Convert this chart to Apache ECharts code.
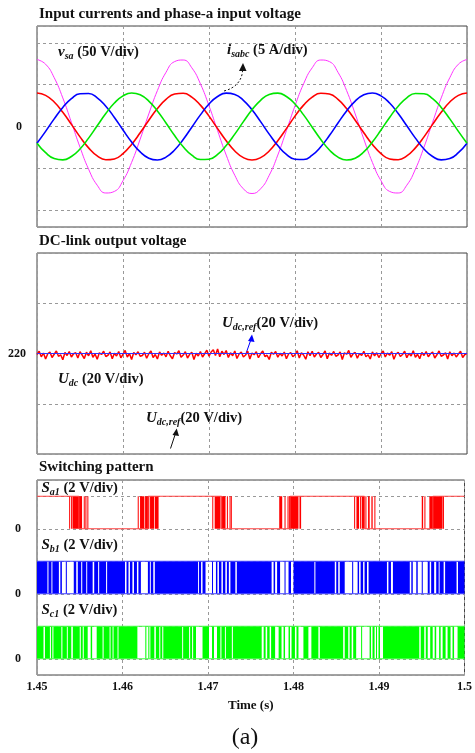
<!DOCTYPE html>
<html>
<head>
<meta charset="utf-8">
<script src="https://cdn.jsdelivr.net/npm/echarts@6/dist/echarts.min.js"></script>
<style>
html, body { margin: 0; padding: 0; background: #fff; }
#main { width: 475px; height: 753px; }
</style>
</head>
<body>
<div id="main"></div>
<script>
// --- input currents and phase-a voltage, sampled every 1 ms ---
var timeAc = [1.450,1.451,1.452,1.453,1.454,1.455,1.456,1.457,1.458,1.459,1.460,1.461,1.462,1.463,1.464,1.465,1.466,1.467,1.468,1.469,
    1.470,1.471,1.472,1.473,1.474,1.475,1.476,1.477,1.478,1.479,1.480,1.481,1.482,1.483,1.484,1.485,1.486,1.487,1.488,1.489,
    1.490,1.491,1.492,1.493,1.494,1.495,1.496,1.497,1.498,1.499,1.500];
var vsa = [80,74.4,58.3,34.1,5.0,-24.7,-51.0,-70.1,-79.4,-77.5,-64.7,-42.9,-15.0,15.0,42.9,64.7,77.5,79.4,70.1,51.0,
    24.7,-5.0,-34.1,-58.3,-74.4,-80,-74.4,-58.3,-34.1,-5.0,24.7,51.0,70.1,79.4,77.5,64.7,42.9,15.0,-15.0,-42.9,
    -64.7,-77.5,-79.4,-70.1,-51.0,-24.7,5.0,34.1,58.3,74.4,80];
var isa = [4,3.72,2.92,1.70,0.25,-1.24,-2.55,-3.51,-3.97,-3.87,-3.24,-2.14,-0.75,0.75,2.14,3.24,3.87,3.97,3.51,2.55,
    1.24,-0.25,-1.70,-2.92,-3.72,-4,-3.72,-2.92,-1.70,-0.25,1.24,2.55,3.51,3.97,3.87,3.24,2.14,0.75,-0.75,-2.14,
    -3.24,-3.87,-3.97,-3.51,-2.55,-1.24,0.25,1.70,2.92,3.72,4];
var isb = [-2,-0.58,0.91,2.28,3.33,3.91,3.94,3.42,2.42,1.08,-0.42,-1.85,-3.03,-3.78,-4.00,-3.65,-2.80,-1.55,-0.08,1.39,
    2.68,3.58,3.99,3.83,3.13,2,0.58,-0.91,-2.28,-3.33,-3.91,-3.94,-3.42,-2.42,-1.08,0.42,1.85,3.03,3.78,4.00,
    3.65,2.80,1.55,0.08,-1.39,-2.68,-3.58,-3.99,-3.83,-3.13,-2];
var isc = [-2,-3.13,-3.83,-3.99,-3.58,-2.68,-1.39,0.08,1.55,2.80,3.65,4.00,3.78,3.03,1.85,0.42,-1.08,-2.42,-3.42,-3.94,
    -3.91,-3.33,-2.28,-0.91,0.58,2,3.13,3.83,3.99,3.58,2.68,1.39,-0.08,-1.55,-2.80,-3.65,-4.00,-3.78,-3.03,-1.85,
    -0.42,1.08,2.42,3.42,3.94,3.91,3.33,2.28,0.91,-0.58,-2];

// --- DC-link voltage, sampled every 0.25 ms ---
var timeDc = [
    1.45000,1.45025,1.45050,1.45075,1.45100,1.45125,1.45150,1.45175,1.45200,1.45225,
    1.45250,1.45275,1.45300,1.45325,1.45350,1.45375,1.45400,1.45425,1.45450,1.45475,
    1.45500,1.45525,1.45550,1.45575,1.45600,1.45625,1.45650,1.45675,1.45700,1.45725,
    1.45750,1.45775,1.45800,1.45825,1.45850,1.45875,1.45900,1.45925,1.45950,1.45975,
    1.46000,1.46025,1.46050,1.46075,1.46100,1.46125,1.46150,1.46175,1.46200,1.46225,
    1.46250,1.46275,1.46300,1.46325,1.46350,1.46375,1.46400,1.46425,1.46450,1.46475,
    1.46500,1.46525,1.46550,1.46575,1.46600,1.46625,1.46650,1.46675,1.46700,1.46725,
    1.46750,1.46775,1.46800,1.46825,1.46850,1.46875,1.46900,1.46925,1.46950,1.46975,
    1.47000,1.47025,1.47050,1.47075,1.47100,1.47125,1.47150,1.47175,1.47200,1.47225,
    1.47250,1.47275,1.47300,1.47325,1.47350,1.47375,1.47400,1.47425,1.47450,1.47475,
    1.47500,1.47525,1.47550,1.47575,1.47600,1.47625,1.47650,1.47675,1.47700,1.47725,
    1.47750,1.47775,1.47800,1.47825,1.47850,1.47875,1.47900,1.47925,1.47950,1.47975,
    1.48000,1.48025,1.48050,1.48075,1.48100,1.48125,1.48150,1.48175,1.48200,1.48225,
    1.48250,1.48275,1.48300,1.48325,1.48350,1.48375,1.48400,1.48425,1.48450,1.48475,
    1.48500,1.48525,1.48550,1.48575,1.48600,1.48625,1.48650,1.48675,1.48700,1.48725,
    1.48750,1.48775,1.48800,1.48825,1.48850,1.48875,1.48900,1.48925,1.48950,1.48975,
    1.49000,1.49025,1.49050,1.49075,1.49100,1.49125,1.49150,1.49175,1.49200,1.49225,
    1.49250,1.49275,1.49300,1.49325,1.49350,1.49375,1.49400,1.49425,1.49450,1.49475,
    1.49500,1.49525,1.49550,1.49575,1.49600,1.49625,1.49650,1.49675,1.49700,1.49725,
    1.49750,1.49775,1.49800,1.49825,1.49850,1.49875,1.49900,1.49925,1.49950,1.49975,1.50000];
var udc = [
    219.6,220.9,218.7,220.2,217.8,219.9,220.6,218.4,219.7,221.0,
    218.9,219.5,217.5,220.4,219.2,220.8,218.6,219.9,220.3,218.2,
    220.7,219.4,218.0,220.5,219.1,221.1,218.5,219.8,217.7,220.3,
    219.6,220.9,218.8,219.3,220.6,217.9,220.1,219.0,220.8,218.3,
    219.7,221.2,218.6,220.0,217.6,220.4,219.5,220.7,218.9,219.2,
    220.5,218.1,219.9,221.0,218.4,219.6,217.8,220.6,219.3,220.2,
    218.7,220.9,219.1,217.9,220.4,219.8,221.1,218.5,219.4,220.7,
    218.2,219.7,220.5,217.6,220.1,219.0,220.8,218.6,219.9,221.3,
    218.9,220.6,221.5,219.2,221.8,218.7,220.9,219.6,221.2,218.4,
    220.3,219.1,221.0,218.0,219.8,220.6,218.6,219.4,220.9,217.8,
    220.2,219.5,220.7,218.3,219.9,221.0,218.8,219.3,217.6,220.5,
    219.7,220.8,218.5,220.1,219.0,220.6,217.9,219.8,220.4,218.7,
    219.5,221.1,218.2,220.3,219.4,217.7,220.7,219.1,220.9,218.6,
    219.8,220.5,218.4,219.6,221.0,217.9,220.2,219.3,220.8,218.9,
    219.4,220.6,217.6,220.3,219.7,221.2,218.5,219.9,220.4,218.1,
    220.0,219.2,220.9,218.7,219.5,217.8,220.6,219.1,220.3,218.4,
    219.9,221.0,218.6,220.2,219.3,220.7,217.7,219.8,220.5,218.8,
    219.6,220.9,218.3,220.1,219.0,221.1,218.5,219.7,217.9,220.4,
    219.2,220.8,218.7,219.9,220.6,218.2,219.5,221.0,218.9,219.4,
    220.3,217.8,220.7,219.1,220.2,218.6,219.8,220.9,218.4,219.6,220.1];
var udcRef = 220;

// --- switching pattern, times in ms after 1.45 s ---
var sa1Pulses = [[3.76,3.84],[3.99,4.07],[4.15,5.27],[5.47,5.54],[5.66,5.78],[5.89,5.97],
    [11.78,11.90],[12.05,12.56],[12.64,13.14],[13.22,13.72],[13.80,14.22],
    [20.50,20.58],[20.78,21.47],[21.55,22.05],[22.21,22.33],[22.52,22.60],[22.67,22.75],
    [28.33,28.68],[28.95,29.07],[29.30,29.38],[29.46,30.58],[30.70,30.89],
    [37.09,37.21],[37.36,37.67],[37.79,37.87],[37.98,38.26],[38.41,38.53],[38.72,38.91],[39.11,39.26],[39.46,39.57],
    [45.00,45.16],[45.31,45.43],[45.89,47.44],[47.48,47.56]];
var sa1State = [[0,1],[4.9,0],[13.0,1],[21.6,0],[29.6,1],[38.3,0],[46.3,1],[50,1]];
var sb1Gaps = [[1.22,1.34],[1.69,1.80],[2.56,2.73],[2.91,3.37],[3.49,4.30],[4.59,4.77],[5.17,5.29],[5.76,5.87],
    [6.51,6.69],[7.15,7.27],[8.08,8.20],[10.29,10.47],[10.70,10.87],[11.16,11.34],[11.69,11.86],[12.15,12.97],
    [13.20,13.31],[13.60,13.78],[18.84,18.95],[19.19,19.36],[19.71,20.47],[20.58,20.93],[21.10,21.28],[21.57,21.74],
    [22.03,22.21],[22.44,22.62],[23.20,23.37],[27.44,27.67],[27.85,28.08],[28.43,28.95],[29.07,29.42],[29.71,30.00],
    [32.44,32.56],[34.83,35.00],[35.23,35.41],[35.99,36.86],[36.98,37.50],[37.67,37.85],[38.14,38.31],[38.60,38.78],
    [40.93,41.10],[41.40,41.63],[43.60,43.78],[43.95,44.36],[44.53,45.00],[45.12,45.70],[45.93,46.10],[46.45,46.69],
    [46.98,47.09],[47.56,47.73],[49.07,49.24]];
var sc1Gaps = [[0.76,0.93],[1.51,1.63],[1.80,1.92],[2.85,2.97],[3.49,3.60],[4.01,4.19],[5.00,5.12],[5.35,5.47],
    [5.93,6.28],[6.45,6.98],[7.67,7.79],[8.49,8.60],[8.84,8.95],[9.42,9.53],[11.74,12.67],[12.79,13.02],
    [13.14,13.26],[13.72,13.90],[14.30,14.42],[14.65,14.77],[16.98,17.09],[17.79,17.91],[18.14,18.26],[18.60,19.36],
    [20.12,20.47],[20.70,21.05],[21.45,21.57],[21.98,22.09],[22.79,22.91],[26.28,26.51],[26.74,26.92],[27.21,27.38],
    [27.85,28.26],[28.60,28.84],[29.01,29.42],[29.59,29.77],[30.17,30.35],[30.58,31.16],[31.74,32.09],[32.91,33.08],
    [35.81,35.99],[36.40,36.57],[36.80,36.98],[37.33,37.91],[38.02,38.90],[39.07,39.24],[39.48,39.65],[39.77,39.94],
    [40.12,40.47],[44.71,44.88],[45.29,45.47],[45.70,45.99],[46.28,46.51],[46.69,47.03],[47.21,47.44],[47.79,48.02],
    [48.37,48.60],[48.78,49.19]];

var SERIF = '"Liberation Serif", "Times New Roman", serif';
var T0 = 1.45;

var myChart = echarts.init(document.getElementById('main'));

function pairs(xs, ys) {
    return xs.map(function (x, i) { return [x, ys[i]]; });
}
function sec(ms) {
    return Math.round((T0 + ms / 1000) * 1e6) / 1e6;
}
function bandData(list, lo, hi) {
    return list.map(function (b) { return [sec(b[0]), sec(b[1]), lo, hi]; });
}
// pulses are the complement of the white gaps
function fillFromGaps(gaps) {
    var out = [], s = 0;
    gaps.forEach(function (g) { out.push([s, g[0]]); s = g[1]; });
    out.push([s, 50]);
    return out;
}
function bandRender(color) {
    return function (params, api) {
        var p0 = api.coord([api.value(0), api.value(2)]);
        var p1 = api.coord([api.value(1), api.value(3)]);
        return {
            type: 'rect',
            shape: { x: p0[0], y: p1[1], width: Math.max(p1[0] - p0[0], 1), height: p0[1] - p1[1] },
            style: { fill: color }
        };
    };
}
function levelLine(level, color, gi) {
    return {
        type: 'line', xAxisIndex: gi, yAxisIndex: 3, showSymbol: false, silent: true,
        lineStyle: { color: color, width: 1 },
        data: [[T0, level], [1.5, level]]
    };
}
function sublabel(x, y, main, sub, rest) {
    return {
        type: 'text', x: x, y: y, silent: true,
        style: {
            text: '{m|' + main + '}{s|' + sub + '}{n|' + rest + '}',
            verticalAlign: 'middle',
            rich: {
                m: { fontFamily: SERIF, fontSize: 15, fontStyle: 'italic', fontWeight: 'bold', lineHeight: 18, fill: '#111' },
                s: { fontFamily: SERIF, fontSize: 10, fontStyle: 'italic', fontWeight: 'bold', lineHeight: 9, verticalAlign: 'bottom', fill: '#111' },
                n: { fontFamily: SERIF, fontSize: 14.5, fontWeight: 'bold', lineHeight: 18, fill: '#111' }
            }
        }
    };
}
function title(y, text) {
    return {
        type: 'text', x: 39, y: y, silent: true,
        style: { text: text, font: 'bold 15px ' + SERIF, fill: '#111', verticalAlign: 'middle' }
    };
}

var dashed = { show: true, lineStyle: { color: '#999', type: [3, 3], width: 1 } };
var gridBox = { show: true, borderColor: '#444', borderWidth: 1, backgroundColor: 'transparent' };

function xAxisFor(gi, showLabel) {
    return {
        type: 'value', gridIndex: gi, min: 1.45, max: 1.5, interval: 0.01,
        axisLine: { show: false }, axisTick: { show: false },
        splitLine: dashed,
        axisLabel: { show: showLabel, margin: 6, color: '#111', fontFamily: SERIF, fontWeight: 'bold', fontSize: 12 },
        name: showLabel ? 'Time (s)' : '', nameLocation: 'middle', nameGap: 24,
        nameTextStyle: { color: '#111', fontFamily: SERIF, fontWeight: 'bold', fontSize: 13 }
    };
}
var yLabel = { color: '#111', fontFamily: SERIF, fontWeight: 'bold', fontSize: 12 };

var option = {
    animation: false,
    backgroundColor: '#fff',
    grid: [
        Object.assign({ left: 37, top: 26, width: 430, height: 201 }, gridBox),
        Object.assign({ left: 37, top: 253, width: 430, height: 201 }, gridBox),
        Object.assign({ left: 37, top: 480, width: 430, height: 195 }, gridBox)
    ],
    xAxis: [xAxisFor(0, false), xAxisFor(1, false), xAxisFor(2, true)],
    yAxis: [
        { type: 'value', gridIndex: 0, min: -120, max: 120, axisLine: { show: false }, axisTick: { show: false },
          splitLine: dashed,
          axisLabel: Object.assign({ margin: 15, formatter: function (v) { return v === 0 ? '0' : ''; } }, yLabel) },
        { type: 'value', gridIndex: 0, min: -12, max: 12, show: false, splitLine: { show: false } },
        { type: 'value', gridIndex: 1, min: 180, max: 260, interval: 20, axisLine: { show: false }, axisTick: { show: false },
          splitLine: dashed,
          axisLabel: Object.assign({ margin: 11, formatter: function (v) { return v === 220 ? '220' : ''; } }, yLabel) },
        { type: 'value', gridIndex: 2, min: -0.5, max: 5.5, splitNumber: 6, axisLine: { show: false }, axisTick: { show: false },
          splitLine: dashed,
          axisLabel: Object.assign({ margin: 16, formatter: function (v) { return (v === 0 || v === 2 || v === 4) ? '0' : ''; } }, yLabel) }
    ],
    series: [
        { name: 'vsa', type: 'line', xAxisIndex: 0, yAxisIndex: 0, smooth: true, showSymbol: false,
          lineStyle: { color: '#ff33ff', width: 1 }, data: pairs(timeAc, vsa) },
        { name: 'isa', type: 'line', xAxisIndex: 0, yAxisIndex: 1, smooth: true, showSymbol: false,
          lineStyle: { color: '#ff0000', width: 1.6 }, data: pairs(timeAc, isa) },
        { name: 'isb', type: 'line', xAxisIndex: 0, yAxisIndex: 1, smooth: true, showSymbol: false,
          lineStyle: { color: '#0000ff', width: 1.6 }, data: pairs(timeAc, isb) },
        { name: 'isc', type: 'line', xAxisIndex: 0, yAxisIndex: 1, smooth: true, showSymbol: false,
          lineStyle: { color: '#00e600', width: 1.6 }, data: pairs(timeAc, isc) },

        { name: 'Udc', type: 'line', xAxisIndex: 1, yAxisIndex: 2, showSymbol: false,
          lineStyle: { color: '#ff0000', width: 1.5 }, data: pairs(timeDc, udc) },
        { name: 'Udc,ref', type: 'line', xAxisIndex: 1, yAxisIndex: 2, showSymbol: false,
          lineStyle: { color: '#3030ff', width: 1.2 }, data: [[T0, udcRef], [1.5, udcRef]] },

        { name: 'Sa1', type: 'line', xAxisIndex: 2, yAxisIndex: 3, step: 'end', showSymbol: false,
          lineStyle: { color: '#ff4040', width: 1 },
          data: sa1State.map(function (p) { return [sec(p[0]), 4 + p[1]]; }) },
        { name: 'Sa1 pulses', type: 'custom', xAxisIndex: 2, yAxisIndex: 3, clip: true,
          renderItem: bandRender('#ff0000'), encode: { x: [0, 1], y: [2, 3] }, data: bandData(sa1Pulses, 4, 5) },
        levelLine(3, '#4040ff', 2), levelLine(2, '#4040ff', 2),
        { name: 'Sb1', type: 'custom', xAxisIndex: 2, yAxisIndex: 3, clip: true,
          renderItem: bandRender('#0000ff'), encode: { x: [0, 1], y: [2, 3] }, data: bandData(fillFromGaps(sb1Gaps), 2, 3) },
        levelLine(1, '#40ff40', 2), levelLine(0, '#40ff40', 2),
        { name: 'Sc1', type: 'custom', xAxisIndex: 2, yAxisIndex: 3, clip: true,
          renderItem: bandRender('#00ff00'), encode: { x: [0, 1], y: [2, 3] }, data: bandData(fillFromGaps(sc1Gaps), 0, 1) }
    ],
    graphic: [
        title(14, 'Input currents and phase-a input voltage'),
        title(241, 'DC-link output voltage'),
        title(467, 'Switching pattern'),

        sublabel(58, 52, 'v', 'sa', ' (50 V/div)'),
        sublabel(227, 50, 'i', 'sabc', ' (5 A/div)'),
        { type: 'bezierCurve', silent: true,
          shape: { x1: 224, y1: 91, x2: 242.5, y2: 71, cpx1: 236, cpy1: 88, cpx2: 242, cpy2: 80 },
          style: { stroke: '#111', lineWidth: 1, lineDash: [2, 2], fill: null } },
        { type: 'polygon', silent: true, shape: { points: [[239, 71], [246.5, 71], [243, 63]] }, style: { fill: '#111' } },

        sublabel(222, 323.5, 'U', 'dc,ref', '(20 V/div)'),
        { type: 'line', silent: true, shape: { x1: 246, y1: 353.5, x2: 250.8, y2: 340 }, style: { stroke: '#0000ff', lineWidth: 1 } },
        { type: 'polygon', silent: true, shape: { points: [[248, 341], [254.5, 342], [252, 334.5]] }, style: { fill: '#0000ff' } },
        sublabel(58, 379, 'U', 'dc', ' (20 V/div)'),
        sublabel(146, 418.5, 'U', 'dc,ref', '(20 V/div)'),
        { type: 'line', silent: true, shape: { x1: 170.5, y1: 448.5, x2: 175.3, y2: 434 }, style: { stroke: '#111', lineWidth: 1 } },
        { type: 'polygon', silent: true, shape: { points: [[172.5, 435], [179, 436], [176.7, 428.5]] }, style: { fill: '#111' } },

        sublabel(41.5, 488.5, 'S', 'a1', ' (2 V/div)'),
        sublabel(41.5, 545, 'S', 'b1', ' (2 V/div)'),
        sublabel(41.5, 610.5, 'S', 'c1', ' (2 V/div)'),

        { type: 'text', x: 245, y: 738, silent: true,
          style: { text: '(a)', font: '24px ' + SERIF, fill: '#111', align: 'center', verticalAlign: 'middle' } }
    ]
};
myChart.setOption(option);
</script>
</body>
</html>
